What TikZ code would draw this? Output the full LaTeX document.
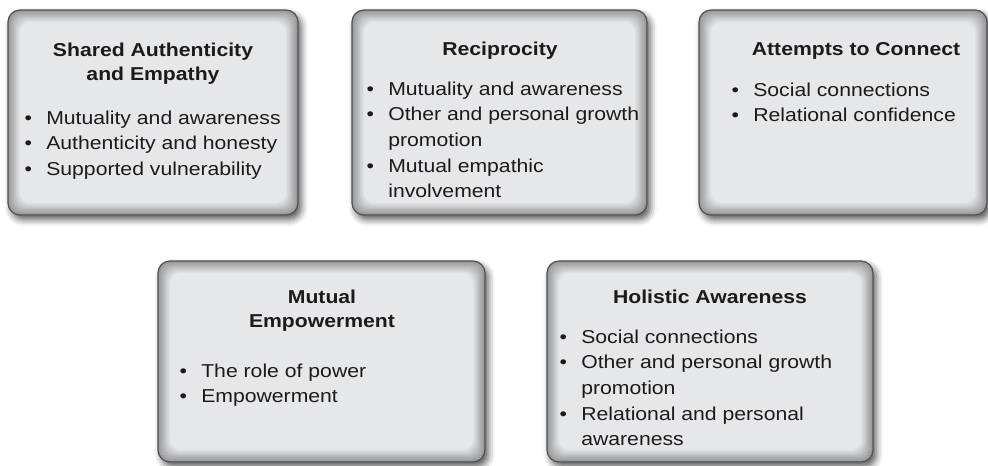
\documentclass[tikz,border=0pt]{standalone}
\usepackage{fontspec}
\setmainfont{Liberation Sans}[FakeStretch=1.135]
\usepackage{tikz}
\usetikzlibrary{shadows.blur}

\definecolor{boxface}{HTML}{E6E7E8}
\definecolor{boxglow}{HTML}{939496}
\definecolor{boxline}{HTML}{505155}
\definecolor{inktext}{HTML}{1E1A1B}

\newcommand{\bul}{\makebox[1.16em][l]{\textbullet}}
\newcommand{\bulcont}{\hspace*{1.16em}}
\newcommand{\topstrut}{\rule{0pt}{11pt}}

\tikzset{
  topicbox/.style={draw=boxline, line width=0.9pt, rounded corners=9pt, fill=boxface, inner sep=0pt,
    blur shadow={shadow xshift=2.5pt, shadow yshift=-3.5pt, shadow blur radius=5pt, shadow opacity=65},
    path picture={
      \foreach \k in {0,...,10}{
        \pgfmathtruncatemacro\mix{100-\k*10}
        \draw[reset cm, line width=1.3pt, draw=boxglow!\mix!boxface, rounded corners=8pt]
          ([shift={(\k*0.9pt+0.5pt,\k*0.9pt+0.5pt)}]path picture bounding box.south west) rectangle
          ([shift={(-\k*0.9pt-0.5pt,-\k*0.9pt-0.5pt)}]path picture bounding box.north east);
      }
    }},
  topictitle/.style={font=\fontsize{14pt}{18.2pt}\selectfont\bfseries, align=center, anchor=north, inner sep=0pt, text=inktext},
  topiclist/.style={font=\fontsize{14pt}{19.2pt}\selectfont, align=left, anchor=north west, inner sep=0pt, text=inktext},
}

\begin{document}
\begin{tikzpicture}[x=0.75pt,y=0.75pt,yscale=-1,xscale=1]
\useasboundingbox (0,0) rectangle (988,465);

%Shape: Rounded boxes
\node[topicbox, minimum width=217.5pt, minimum height=153.75pt] (shared) at (153,112.5) {};
\node[topicbox, minimum width=221.25pt, minimum height=153.75pt] (recip) at (499.5,112.5) {};
\node[topicbox, minimum width=216pt, minimum height=153.75pt] (attempts) at (843,112.5) {};
\node[topicbox, minimum width=245.25pt, minimum height=150.75pt] (empower) at (321.5,361.5) {};
\node[topicbox, minimum width=244.5pt, minimum height=150.75pt] (holistic) at (710,361.5) {};

% Text Node
\node[topictitle] (shared-title) at (153,41.3) {\topstrut Shared Authenticity\\and Empathy};
\node[topiclist] (shared-list) at (24.4,109.3) {\topstrut\bul Mutuality and awareness\\\bul Authenticity and honesty\\\bul Supported vulnerability};

% Text Node
\node[topictitle] (recip-title) at (500,40.3) {\topstrut Reciprocity};
\node[topiclist] (recip-list) at (366.4,80.3) {\topstrut\bul Mutuality and awareness\\\bul Other and personal growth\\\bulcont promotion\\\bul Mutual empathic\\\bulcont involvement};

% Text Node
\node[topictitle] (attempts-title) at (856,40.3) {\topstrut Attempts to Connect};
\node[topiclist] (attempts-list) at (731.4,81.3) {\topstrut\bul Social connections\\\bul Relational confidence};

% Text Node
\node[topictitle] (empower-title) at (322,288.3) {\topstrut Mutual\\Empowerment};
\node[topiclist] (empower-list) at (179.4,362.3) {\topstrut\bul The role of power\\\bul Empowerment};

% Text Node
\node[topictitle] (holistic-title) at (710,288.3) {\topstrut Holistic Awareness};
\node[topiclist] (holistic-list) at (559.4,328.3) {\topstrut\bul Social connections\\\bul Other and personal growth\\\bulcont promotion\\\bul Relational and personal\\\bulcont awareness};

\end{tikzpicture}
\end{document}
